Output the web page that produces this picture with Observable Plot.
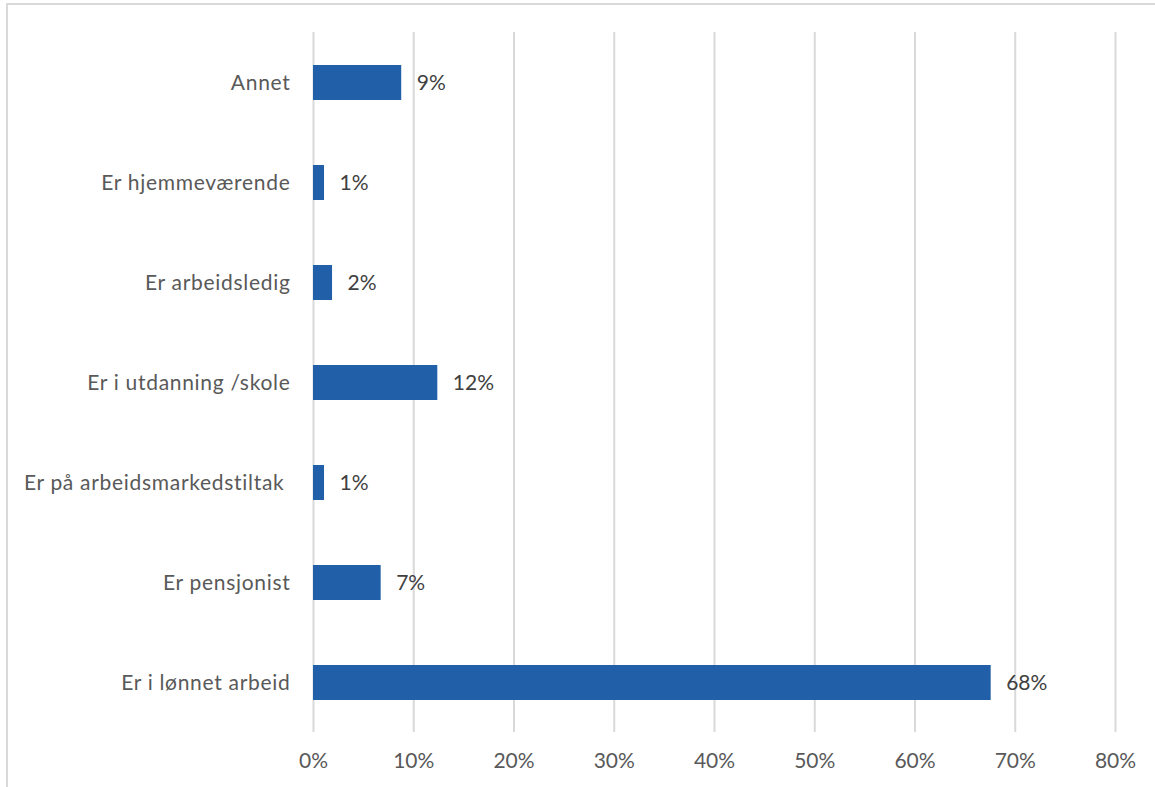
<!DOCTYPE html>
<html>
<head>
<meta charset="utf-8">
<script src="https://cdn.jsdelivr.net/npm/d3@7"></script>
<script src="https://cdn.jsdelivr.net/npm/@observablehq/plot@0.6"></script>
<style>
  html, body { margin: 0; padding: 0; background: #fff; }
  #wrap { position: relative; width: 1155px; height: 787px; overflow: hidden; }
  #border { position: absolute; left: 6px; top: 3px; width: 1200px; height: 900px; border: 2px solid #d9d9d9; box-sizing: border-box; pointer-events: none; }
</style>
</head>
<body>
<div id="wrap"><div id="border"></div></div>
<script>
const categories = [
  "Annet",
  "Er hjemmeværende",
  "Er arbeidsledig",
  "Er i utdanning /skole",
  "Er på arbeidsmarkedstiltak\u00a0",
  "Er pensjonist",
  "Er i lønnet arbeid"
];
const values = [0.088, 0.011, 0.019, 0.124, 0.011, 0.0675, 0.676];
const valueLabels = ["9%", "1%", "2%", "12%", "1%", "7%", "68%"];
const xTicks = [0, 0.1, 0.2, 0.3, 0.4, 0.5, 0.6, 0.7, 0.8];

const data = categories.map((c, i) => ({category: c, value: values[i], label: valueLabels[i]}));

const chart = Plot.plot({
  width: 1155,
  height: 787,
  marginLeft: 313,
  marginRight: 40,
  marginTop: 32,
  marginBottom: 55,
  style: {fontFamily: "Lato, sans-serif", fontSize: "21px", color: "#595959", background: "transparent"},
  x: {domain: [0, 0.8], ticks: xTicks, tickFormat: d => Math.round(d * 100) + "%", label: null},
  y: {domain: categories, paddingInner: 0.65, paddingOuter: 0.325, label: null},
  marks: [
    Plot.gridX(xTicks, {stroke: "#d9d9d9", strokeOpacity: 1, strokeWidth: 2}),
    Plot.axisX({ticks: xTicks, tickSize: 0, tickPadding: 21, tickFormat: d => Math.round(d * 100) + "%", fontSize: 21, fill: "#595959"}),
    Plot.axisY({tickSize: 0, tickPadding: 23, fontSize: 21, fill: "#595959"}),
    Plot.barX(data, {x: "value", y: "category", fill: "#2160a8"}),
    Plot.text(data, {x: "value", y: "category", text: "label", textAnchor: "start", dx: 15, fontSize: 21, fill: "#404040"})
  ]
});
d3.select(chart).selectAll("g[aria-label='y-axis tick label'] text").style("letter-spacing", "0.7px");
document.getElementById("wrap").prepend(chart);
</script>
</body>
</html>
